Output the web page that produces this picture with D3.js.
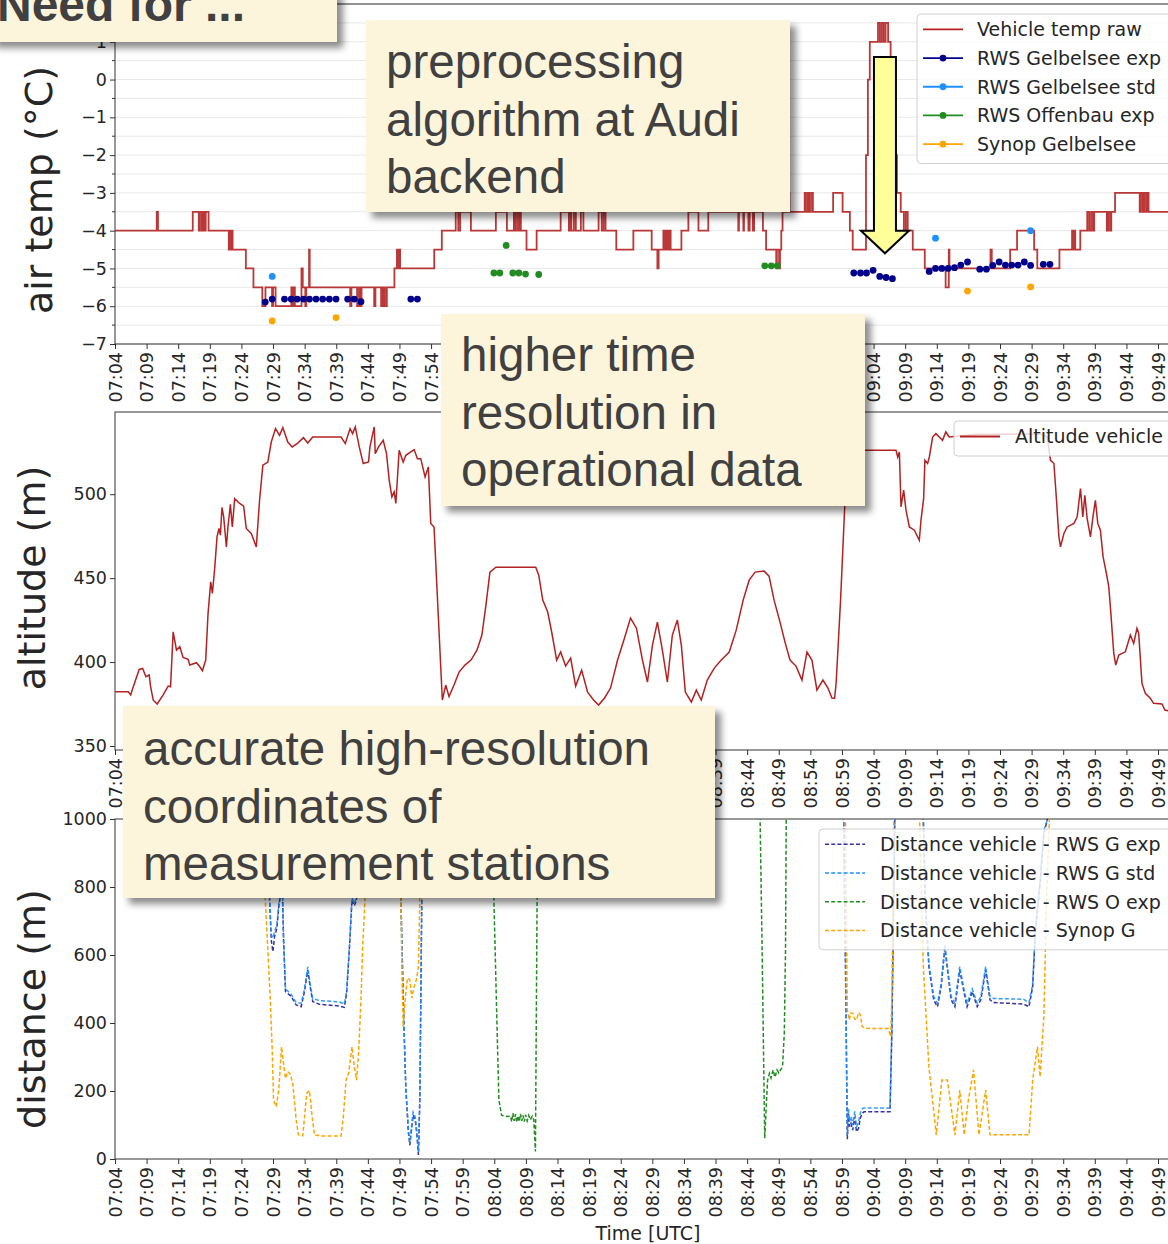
<!DOCTYPE html>
<html>
<head>
<meta charset="utf-8">
<script src="https://cdn.jsdelivr.net/npm/d3@7"></script>
<style>
  body { margin: 0; background: #fff; }
  svg text { font-family: "DejaVu Sans", sans-serif; }
  .note text { font-family: "Liberation Sans", Arial, sans-serif; fill: #404040; }
</style>
</head>
<body>
<svg id="chart" width="1168" height="1244"></svg>
<script>
// time is minutes after 07:00 UTC
const tickLabels = ["07:04","07:09","07:14","07:19","07:24","07:29","07:34","07:39","07:44","07:49","07:54","07:59",
  "08:04","08:09","08:14","08:19","08:24","08:29","08:34","08:39","08:44","08:49","08:54","08:59",
  "09:04","09:09","09:14","09:19","09:24","09:29","09:34","09:39","09:44","09:49"];

const tempTicks = [-7, -6, -5, -4, -3, -2, -1, 0, 1];
const altTicks = [350, 400, 450, 500];
const distTicks = [0, 200, 400, 600, 800, 1000];

// vehicle temperature, raw (step values)
const tempRaw = [[4.0,-4],[10.6,-3.5],[10.8,-4],
  [16.3,-3.5],[17.25,-4],[17.4,-3.5],[17.7,-4],[17.96,-3.5],[18.2,-4],[18.35,-3.5],[18.8,-4],
  [22.0,-4.5],[22.14,-4],[22.3,-4.5],[22.45,-4],[22.6,-4.5],
  [24.7,-5],[25.9,-5.5],
  [27.3,-6],[27.8,-5.5],[28.85,-6],[29.0,-5.5],[29.4,-6],
  [31.9,-5.5],[32.1,-6],[32.3,-5.5],[32.45,-6],
  [33.5,-5],[33.7,-5.5],[34.1,-6],[34.25,-5.5],[34.7,-4.5],[34.8,-5.5],
  [41.2,-6],[41.4,-5.5],[42.3,-6],[42.6,-5.5],[42.8,-6],[43.0,-5.5],
  [45.0,-6],[45.2,-5.5],
  [46.1,-6],[46.3,-5.5],[46.4,-6],[46.6,-5.5],[46.7,-6],[47.0,-5.5],
  [48.2,-5],[48.6,-4.5],[48.8,-5],[48.95,-4.5],[49.1,-5],
  [54.5,-4.5],[55.7,-4],
  [57.9,-3.5],[58.3,-4],[58.6,-3.5],[60.3,-4],
  [64.25,-3.5],[66.0,-4],
  [67.1,-3.5],[67.3,-4],[67.6,-3.5],[67.9,-4],[68.0,-3.5],[68.2,-4],
  [69.1,-4.5],[70.7,-4],
  [74.5,-3.5],[75.8,-4],[76.0,-3.5],[76.2,-4],[76.6,-3.5],[76.9,-4],
  [77.7,-3.5],[78.1,-4],
  [80.5,-3.5],[81.0,-4],[81.3,-3.5],[81.6,-4],
  [83.3,-4.5],[86.0,-4],
  [88.9,-4.5],[89.8,-5],[90.0,-4.5],
  [90.75,-4],[91.0,-4.5],[91.25,-4],[91.5,-4.5],[91.7,-4],[91.9,-4.5],
  [93.6,-4],[94.7,-3.5],[96.3,-4],[97.85,-3.5],
  [102.6,-4],[102.7,-3.5],[103.4,-4],[103.5,-3.5],[104.2,-4],[104.4,-3.5],[104.9,-4],[105.1,-3.5],
  [106.5,-4],[107.0,-4.5],
  [108.6,-5],[108.7,-4.5],[109.05,-5],[109.2,-4.5],
  [109.4,-4],[109.6,-3.5],
  [110.5,-3],[110.7,-3.5],
  [113.1,-3],[113.3,-3.5],[113.6,-3],[113.8,-3.5],[114.1,-3],[114.4,-3.5],
  [117.6,-3],[119.1,-3.5],[120.25,-4],[120.7,-4.5],
  [122.8,-2],[123.1,0],[123.4,1],[124.7,1.5],[125.0,1],[125.3,1.5],[125.6,1],[125.9,1.5],[126.3,1],
  [126.7,0.5],[127.0,-1],[127.4,-2],[127.7,-3],[128.3,-3.5],[128.8,-4],[129.1,-3.5],[129.4,-4],
  [130.2,-4.5],[132.1,-5],
  [135.4,-5.5],[135.9,-4.5],[136.0,-5],
  [142.5,-4.5],[142.7,-5],
  [145.6,-4.5],[146.7,-4],[149.4,-4.5],[149.9,-5],
  [153.4,-4.5],[155.4,-4],[155.6,-4.5],[155.7,-4],[155.9,-4.5],[156.7,-4],
  [157.8,-3.5],[158.1,-4],[158.4,-3.5],[158.7,-4],[158.9,-3.5],
  [160.9,-4],[161.1,-3.5],[161.4,-4],[161.6,-3.5],
  [162.2,-3],
  [166.1,-3.5],[166.3,-3],[166.6,-3.5],[166.8,-3],[167.1,-3.5],[167.3,-3],[167.5,-3.5],
  [172,-3.5]];

// station temperatures
const rwsGelbExp = [[27.77,-5.89],[28.87,-5.81],[30.81,-5.81],[31.87,-5.81],[32.82,-5.81],[33.81,-5.81],
  [34.76,-5.81],[35.81,-5.81],[36.85,-5.81],[37.91,-5.81],[38.97,-5.81],[40.8,-5.81],[41.85,-5.81],[42.91,-5.88],
  [50.8,-5.81],[51.84,-5.81],
  [120.87,-5.12],[121.93,-5.12],[122.88,-5.12],[123.92,-5.05],[124.98,-5.21],[125.97,-5.24],[126.98,-5.27],
  [132.8,-5.08],[133.8,-5.0],[134.8,-5.0],[135.8,-5.0],[136.8,-4.98],[137.8,-4.91],[138.86,-4.83],
  [140.8,-5.02],[141.85,-5.02],[142.85,-4.92],[143.86,-4.83],[144.85,-4.91],[145.85,-4.91],[146.86,-4.91],
  [147.85,-4.83],[148.84,-4.92],[150.85,-4.89],[151.9,-4.89]];
const rwsGelbStd = [[28.87,-5.21],[133.8,-4.2],[148.84,-4.0]];
const rwsOffExp = [[63.94,-5.12],[64.88,-5.12],[65.88,-4.39],[66.93,-5.12],[67.88,-5.12],[68.94,-5.15],[71.03,-5.16],
  [106.79,-4.93],[107.82,-4.93],[108.77,-4.93]];
const synopGelb = [[28.87,-6.39],[38.97,-6.3],[138.86,-5.6],[148.84,-5.49]];

// vehicle altitude (m)
const altitude = [[4.0,382.3],[6.1,382.3],[6.48,380.4],[6.89,385.3],[7.83,395.6],[8.37,396.2],[8.89,391.3],[9.41,392.3],
  [9.63,385.3],[10.04,377.4],[10.67,375.0],[11.62,380.4],[12.41,385.7],[12.79,385.3],[13.2,418.0],[13.73,407.1],
  [14.25,409.1],[14.77,402.8],[15.56,401.6],[15.83,398.2],[16.89,399.6],[17.41,397.2],[17.83,394.8],[18.35,401.2],
  [18.72,429.0],[19.14,447.8],[19.41,440.9],[19.77,455.8],[20.14,474.6],[20.45,479.6],[20.67,475.6],[20.92,492.1],
  [21.19,486.5],[21.62,468.6],[21.87,480.5],[22.25,494.0],[22.56,480.5],[22.93,497.4],[23.72,494.5],[24.35,492.9],
  [24.77,479.6],[25.56,476.6],[26.35,468.6],[26.87,496.4],[27.39,517.3],[28.18,519.2],[28.72,531.1],[29.39,539.1],
  [30.03,535.1],[30.55,539.7],[31.33,531.1],[32.03,528.2],[32.91,530.5],[33.81,533.7],[34.49,530.5],[35.28,534.1],
  [39.76,534.1],[40.43,530.2],[41.18,539.1],[41.59,536.1],[42.01,540.1],[42.64,528.2],[43.27,518.3],[44.11,519.2],
  [44.33,528.2],[45.01,540.1],[45.17,524.2],[45.69,528.2],[46.43,532.1],[46.95,524.2],[47.38,508.3],[47.8,498.4],
  [48.16,501.4],[48.43,494.5],[48.95,526.2],[49.58,519.2],[50.01,523.2],[51.32,526.6],[51.84,521.2],[52.37,521.2],
  [53.05,510.3],[53.57,516.3],[53.95,482.6],[54.47,480.5],[55.78,377.4],[56.32,386.3],[56.84,379.4],[57.63,386.3],
  [58.42,394.0],[59.36,398.2],[60.31,401.2],[61.26,407.1],[62.04,416.1],[62.68,433.9],[63.31,453.6],[64.25,456.5],
  [70.56,456.5],[71.03,451.8],[71.67,436.9],[72.45,429.8],[73.08,417.9],[73.87,401.2],[74.5,406.0],[75.29,397.6],
  [76.08,402.4],[76.87,385.7],[77.82,395.2],[78.76,382.1],[79.71,377.4],[80.5,374.4],[81.44,378.6],[82.39,384.5],
  [83.5,401.2],[84.6,414.3],[85.55,426.2],[86.49,420.2],[87.44,401.2],[88.23,388.1],[89.02,410.1],[89.8,423.8],
  [90.59,407.1],[91.38,388.1],[92.17,416.1],[92.96,425.0],[93.59,410.1],[94.22,382.1],[95.17,376.2],[95.96,383.3],
  [96.74,377.4],[97.69,389.3],[98.8,396.4],[99.9,401.2],[101.17,406.0],[102.27,419.0],[103.37,436.9],[104.32,448.8],
  [105.26,453.6],[106.68,454.2],[107.47,451.2],[108.26,436.9],[109.2,423.8],[109.99,411.9],[110.78,401.2],[111.73,397.6],
  [112.67,389.3],[113.46,406.0],[114.25,401.2],[115.04,383.3],[115.99,389.3],[116.78,384.5],[117.41,378.6],[117.83,378.4],
  [118.08,387.5],[118.78,436.9],[119.41,490.5],[119.94,521.4],[120.4,526.2],[127.55,526.2],[127.82,522.2],[128.08,525.2],
  [128.34,492.4],[128.76,502.4],[129.13,490.5],[129.66,480.5],[130.45,478.6],[131.24,472.6],[131.5,484.5],[131.92,497.4],
  [132.12,520.2],[132.55,518.3],[132.82,522.2],[133.34,534.1],[133.86,536.1],[134.39,534.1],[134.91,532.1],[135.43,537.1],
  [135.97,534.1],[140.44,535.7],[143.59,535.7],[146.74,535.7],[150.69,535.7],[151.47,534.1],[151.99,520.2],[152.53,518.3],
  [152.94,496.4],[153.32,474.6],[153.57,468.6],[154.11,476.6],[154.63,480.5],[155.69,482.6],[156.21,486.5],[156.73,503.4],
  [157.1,486.5],[157.42,499.4],[157.79,485.5],[158.31,474.6],[158.74,487.5],[159.09,496.4],[159.47,482.6],[159.88,478.6],
  [160.31,462.7],[160.83,452.8],[161.21,444.8],[161.46,432.9],[162.0,405.2],[162.31,398.2],[162.79,404.2],[163.83,406.1],
  [164.62,416.1],[165.15,411.1],[165.67,420.1],[165.94,417.1],[166.46,387.3],[166.98,381.4],[167.77,378.4],[168.31,375.4],
  [169.62,375.0],[170.09,371.4],[172,370.0]];

// distance vehicle - station (m); null separates stretches
const distGExp = [[28.2,1100],[28.45,762],[28.72,644],[28.97,610],[29.24,654],[29.6,678],[29.91,742],[30.29,790],[30.45,820],
  [30.66,644],[30.97,492],[31.33,487],[31.87,478],[32.66,453],[33.45,448],[33.97,492],[34.49,556],[34.87,507],[35.28,463],
  [36.33,455],[39.49,450],[40.28,446],[40.64,487],[41.07,615],[41.49,762],[41.85,745],[42.2,760],[42.6,1100], null,
  [49.0,1100],[49.22,762],[49.47,566],[49.74,370],[50.01,203],[50.42,76],[50.64,41],[50.96,95],[51.16,129],[51.48,115],
  [51.74,76],[52.0,12],[52.22,174],[52.38,468],[52.53,762],[52.7,1100], null,
  [119.1,1100],[119.27,1000],[119.56,566],[119.85,58],[120.02,134],[120.2,95],[120.43,105],[120.7,85],[121.02,124],
  [121.3,80],[121.62,90],[121.9,120],[122.2,134],[122.49,139],[126.6,139],[126.89,370],[127.19,762],[127.36,1000],[127.5,1100], null,
  [131.7,1100],[131.87,1000],[132.17,762],[132.75,566],[133.51,468],[134.11,448],[134.69,507],[135.28,620],[135.69,556],
  [136.27,468],[136.87,448],[137.63,556],[138.34,487],[138.79,448],[139.61,492],[140.39,448],[140.97,468],[141.73,556],
  [142.42,468],[143.0,460],[147.7,456],[148.59,448],[149.17,507],[149.58,664],[150.34,811],[150.94,958],[151.52,1000],[151.7,1100]];
const distGStd = [[28.2,1100],[28.45,770],[28.72,660],[28.97,650],[29.24,668],[29.6,690],[29.91,750],[30.29,800],[30.45,830],
  [30.66,655],[30.97,500],[31.33,494],[31.87,484],[32.66,460],[33.45,458],[33.97,500],[34.49,565],[34.87,515],[35.28,472],
  [36.33,466],[39.49,462],[40.28,456],[40.64,495],[41.07,622],[41.49,768],[41.85,752],[42.2,768],[42.6,1100], null,
  [49.0,1100],[49.22,770],[49.47,575],[49.74,380],[50.01,212],[50.42,85],[50.64,50],[50.96,104],[51.16,138],[51.48,124],
  [51.74,84],[52.0,20],[52.22,180],[52.38,475],[52.53,770],[52.7,1100], null,
  [119.1,1100],[119.27,1000],[119.56,575],[119.85,70],[120.02,150],[120.2,110],[120.43,125],[120.7,100],[121.02,140],
  [121.3,95],[121.62,108],[121.9,135],[122.2,148],[122.49,150],[126.6,150],[126.89,380],[127.19,770],[127.36,1000],[127.5,1100], null,
  [131.7,1100],[131.87,1000],[132.17,770],[132.75,575],[133.51,478],[134.11,458],[134.69,515],[135.28,630],[135.69,565],
  [136.27,478],[136.87,458],[137.63,566],[138.34,496],[138.79,458],[139.61,500],[140.39,458],[140.97,478],[141.73,566],
  [142.42,478],[143.0,472],[147.7,470],[148.59,460],[149.17,515],[149.58,672],[150.34,820],[150.94,966],[151.52,1000],[151.7,1100]];
const distOExp = [[63.7,1100],[63.94,762],[64.46,370],[64.73,174],[65.15,129],[66.04,125],[66.56,126],[66.75,110],[66.95,135],
  [67.15,112],[67.35,132],[67.55,108],[67.75,127],[67.95,110],[68.15,133],[68.35,112],[68.55,128],[68.75,110],[68.95,130],
  [69.2,112],[69.45,128],[69.7,115],[70.0,126],[70.25,115],[70.51,22],[70.77,762],[70.9,1100], null,
  [105.8,1100],[106.05,1000],[106.37,615],[106.78,61],[107.07,174],[107.24,232],[107.53,252],[107.78,238],[108.1,262],
  [108.41,241],[108.73,262],[109.0,253],[109.6,272],[109.88,371],[110.07,615],[110.18,997],[110.3,1100]];
const distSynop = [[27.3,1100],[27.77,762],[28.18,615],[28.56,468],[28.87,321],[29.08,174],[29.5,154],[29.91,203],[30.34,330],
  [30.66,281],[30.97,237],[31.33,257],[31.71,250],[32.12,223],[32.66,115],[33.02,71],[33.7,68],[34.33,193],[34.76,201],
  [35.18,125],[35.55,71],[36.33,68],[39.76,68],[40.12,125],[40.55,232],[40.96,252],[41.49,330],[41.85,272],[42.22,232],
  [42.53,311],[42.91,468],[43.16,615],[43.54,762],[44.0,1100], null,
  [49.0,1100],[49.22,762],[49.38,566],[49.58,389],[49.9,468],[50.26,532],[50.64,527],[50.96,473],[51.32,507],[51.68,527],
  [52.0,566],[52.22,762],[52.4,1100], null,
  [119.4,1100],[119.56,1000],[119.67,762],[119.85,438],[120.15,409],[120.4,430],[120.73,428],[121.0,412],[121.32,409],
  [121.6,430],[121.9,424],[122.2,389],[123.09,384],[126.3,384],[126.71,360],[126.89,468],[127.19,1000],[127.3,1100], null,
  [131.1,1100],[131.28,1000],[131.87,566],[132.75,272],[133.92,71],[134.8,232],[135.69,232],[136.87,71],[137.63,203],
  [138.34,71],[138.92,164],[139.81,262],[140.67,71],[141.73,203],[142.42,71],[148.59,71],[149.17,232],[149.93,330],
  [150.34,242],[150.94,419],[151.35,762],[151.81,1000],[152.0,1100]];

const svg = d3.select("#chart");
const defs = svg.append("defs");
const shadow = defs.append("filter").attr("id", "shadow")
  .attr("x", "-10%").attr("y", "-10%").attr("width", "130%").attr("height", "140%");
shadow.append("feDropShadow").attr("dx", 6).attr("dy", 6).attr("stdDeviation", 3.5)
  .attr("flood-color", "#000").attr("flood-opacity", 0.45);

const toMin = s => { const [h, m] = s.split(":").map(Number); return (h - 7) * 60 + m; };

const x = d3.scaleLinear().domain([4, 172]).range([115, 1177]);
const yTemp = d3.scaleLinear().domain([-7, 2]).range([344, 4]);
const yAlt = d3.scaleLinear().domain([347.6, 549]).range([750, 412]);
const yDist = d3.scaleLinear().domain([0, 1000]).range([1159, 819]);

// axes frame for one panel
function drawFrame(y, yTicks, id, grid) {
  const [bottom, top] = y.range();
  const [left, right] = x.range();
  defs.append("clipPath").attr("id", id).append("rect")
    .attr("x", left).attr("y", top).attr("width", right - left).attr("height", bottom - top);
  const g = svg.append("g");

  if (grid) {
    g.selectAll(".grid").data(d3.range(-7, 2.01, 0.5)).join("line")
      .attr("x1", left).attr("x2", right)
      .attr("y1", d => y(d)).attr("y2", d => y(d))
      .attr("stroke", "#e8e8e8").attr("stroke-width", 1);
    // minor ticks
    g.selectAll(".minor").data(d3.range(-6.5, 2, 1)).join("line")
      .attr("x1", left - 3).attr("x2", left)
      .attr("y1", d => y(d)).attr("y2", d => y(d))
      .attr("stroke", "#333");
  }

  const xa = g.append("g").attr("transform", `translate(0,${bottom})`)
    .call(d3.axisBottom(x).tickValues(tickLabels.map(toMin))
      .tickFormat((d, i) => tickLabels[i]).tickSize(5).tickSizeOuter(0));
  const ya = g.append("g").attr("transform", `translate(${left},0)`)
    .call(d3.axisLeft(y).tickValues(yTicks).tickFormat(d3.format("d")).tickSize(5).tickSizeOuter(0));
  [xa, ya].forEach(a => {
    a.attr("font-family", null).attr("font-size", null);
    a.select(".domain").remove();
    a.selectAll("line").attr("stroke", "#333");
    a.selectAll("text").attr("fill", "#262626").style("font-size", "17.5px");
  });
  xa.selectAll("text")
    .attr("transform", "rotate(-90)")
    .attr("text-anchor", "end")
    .attr("x", -8).attr("y", 0).attr("dy", "0.35em");
  ya.selectAll("text").attr("x", -8);

  g.append("rect").attr("x", left).attr("y", top)
    .attr("width", right - left).attr("height", bottom - top)
    .attr("fill", "none").attr("stroke", "#333").attr("stroke-width", 1);
  return g;
}

function yLabel(text, cx, cy) {
  svg.append("text").attr("transform", `translate(${cx},${cy}) rotate(-90)`)
    .attr("text-anchor", "middle").attr("fill", "#262626")
    .style("font-size", "38px").text(text);
}

// ---------- panel 1: air temperature
drawFrame(yTemp, tempTicks, "clipTemp", true);
const pTemp = svg.append("g").attr("clip-path", "url(#clipTemp)");
pTemp.append("path").datum(tempRaw)
  .attr("fill", "none").attr("stroke", "#b22222").attr("stroke-width", 1.8).attr("opacity", 0.9)
  .attr("d", d3.line().curve(d3.curveStepAfter).x(d => x(d[0])).y(d => yTemp(d[1])));

const dotSets = [
  { data: rwsGelbExp, color: "#00008b" },
  { data: rwsGelbStd, color: "#1e90ff" },
  { data: rwsOffExp, color: "#228b22" },
  { data: synopGelb, color: "#ffa500" }
];
dotSets.forEach(s => {
  pTemp.append("g").selectAll("circle").data(s.data).join("circle")
    .attr("cx", d => x(d[0])).attr("cy", d => yTemp(d[1])).attr("r", 3.4)
    .attr("fill", s.color);
});
yLabel("air temp (°C)", 52, 190);

// ---------- panel 2: altitude
drawFrame(yAlt, altTicks, "clipAlt", false);
svg.append("g").attr("clip-path", "url(#clipAlt)")
  .append("path").datum(altitude)
  .attr("fill", "none").attr("stroke", "#b22222").attr("stroke-width", 1.5)
  .attr("d", d3.line().x(d => x(d[0])).y(d => yAlt(d[1])));
yLabel("altitude (m)", 45, 578);

// ---------- panel 3: distance
drawFrame(yDist, distTicks, "clipDist", false);
const pDist = svg.append("g").attr("clip-path", "url(#clipDist)");
const distLine = d3.line().defined(d => d !== null).x(d => x(d[0])).y(d => yDist(d[1]));
const distSets = [
  { data: distGExp, color: "#00008b", op: 0.8 },
  { data: distGStd, color: "#1e90ff", op: 0.9 },
  { data: distOExp, color: "#228b22", op: 1 },
  { data: distSynop, color: "#ffa500", op: 1 }
];
distSets.forEach(s => {
  pDist.append("path").datum(s.data)
    .attr("fill", "none").attr("stroke", s.color).attr("stroke-opacity", s.op)
    .attr("stroke-width", 1.5).attr("stroke-dasharray", "4,2.2")
    .attr("d", distLine);
});
yLabel("distance (m)", 45, 1009);
svg.append("text").attr("x", 648).attr("y", 1240).attr("text-anchor", "middle")
  .attr("fill", "#262626").style("font-size", "19px").text("Time [UTC]");

// ---------- legends
function legend(lx, ly, w, rowH, items, textX) {
  const g = svg.append("g");
  g.append("rect").attr("x", lx).attr("y", ly).attr("width", w).attr("height", rowH * items.length + 6)
    .attr("rx", 4).attr("fill", "#fff").attr("fill-opacity", 0.8)
    .attr("stroke", "#d0d0d0").attr("stroke-width", 1);
  items.forEach((it, i) => {
    const cy = ly + rowH / 2 + 1 + i * rowH;
    g.append("line").attr("x1", lx + 6).attr("x2", lx + 46).attr("y1", cy).attr("y2", cy)
      .attr("stroke", it.color).attr("stroke-width", it.dash ? 1.5 : 1.8)
      .attr("stroke-dasharray", it.dash ? "4,2.2" : null).attr("stroke-opacity", it.op || 1);
    if (it.marker) g.append("circle").attr("cx", lx + 26).attr("cy", cy).attr("r", 3.4).attr("fill", it.color);
    g.append("text").attr("x", lx + textX).attr("y", cy).attr("dy", "0.36em")
      .attr("fill", "#262626").style("font-size", "19px").text(it.label);
  });
}
legend(917, 14, 270, 28.7, [
  { label: "Vehicle temp raw", color: "#b22222" },
  { label: "RWS Gelbelsee exp", color: "#00008b", marker: true },
  { label: "RWS Gelbelsee std", color: "#1e90ff", marker: true },
  { label: "RWS Offenbau exp", color: "#228b22", marker: true },
  { label: "Synop Gelbelsee", color: "#ffa500", marker: true }
], 60);
legend(954, 421, 240, 29, [{ label: "Altitude vehicle", color: "#b22222" }], 61);
legend(819, 829, 380, 28.7, [
  { label: "Distance vehicle - RWS G exp", color: "#00008b", dash: true, op: 0.8 },
  { label: "Distance vehicle - RWS G std", color: "#1e90ff", dash: true },
  { label: "Distance vehicle - RWS O exp", color: "#228b22", dash: true },
  { label: "Distance vehicle - Synop G", color: "#ffa500", dash: true }
], 61);

// ---------- callout boxes
function note(bx, by, w, h, lines, tx, firstBase) {
  const g = svg.append("g").attr("class", "note");
  g.append("rect").attr("x", bx).attr("y", by).attr("width", w).attr("height", h)
    .attr("fill", "#fdf4dc").attr("filter", "url(#shadow)");
  lines.forEach((t, i) => {
    g.append("text").attr("x", tx).attr("y", firstBase + i * 57.5)
      .style("font-size", "47.5px").text(t);
  });
  return g;
}
note(366, 20, 424, 192, ["preprocessing", "algorithm at Audi", "backend"], 386, 78);
note(441, 314, 424, 192, ["higher time", "resolution in", "operational data"], 461, 371);
note(123, 706, 592, 192, ["accurate high-resolution", "coordinates of", "measurement stations"], 143, 765);

const head = note(-10, -10, 347, 52, [], 0, 0);
head.append("text").attr("x", -3).attr("y", 21).style("font-size", "48px").style("font-weight", "bold")
  .text("Need for ...");

// yellow arrow down to the temperature peak
const aX = x(125.8), aTop = yTemp(0.6), aNeck = yTemp(-4.0), aTip = yTemp(-4.6);
svg.append("polygon")
  .attr("points", [[aX - 11, aTop], [aX + 11, aTop], [aX + 11, aNeck], [aX + 24, aNeck], [aX, aTip],
    [aX - 24, aNeck], [aX - 11, aNeck]].map(p => p.join(",")).join(" "))
  .attr("fill", "#ffff99").attr("stroke", "#000").attr("stroke-width", 2);
</script>
</body>
</html>
